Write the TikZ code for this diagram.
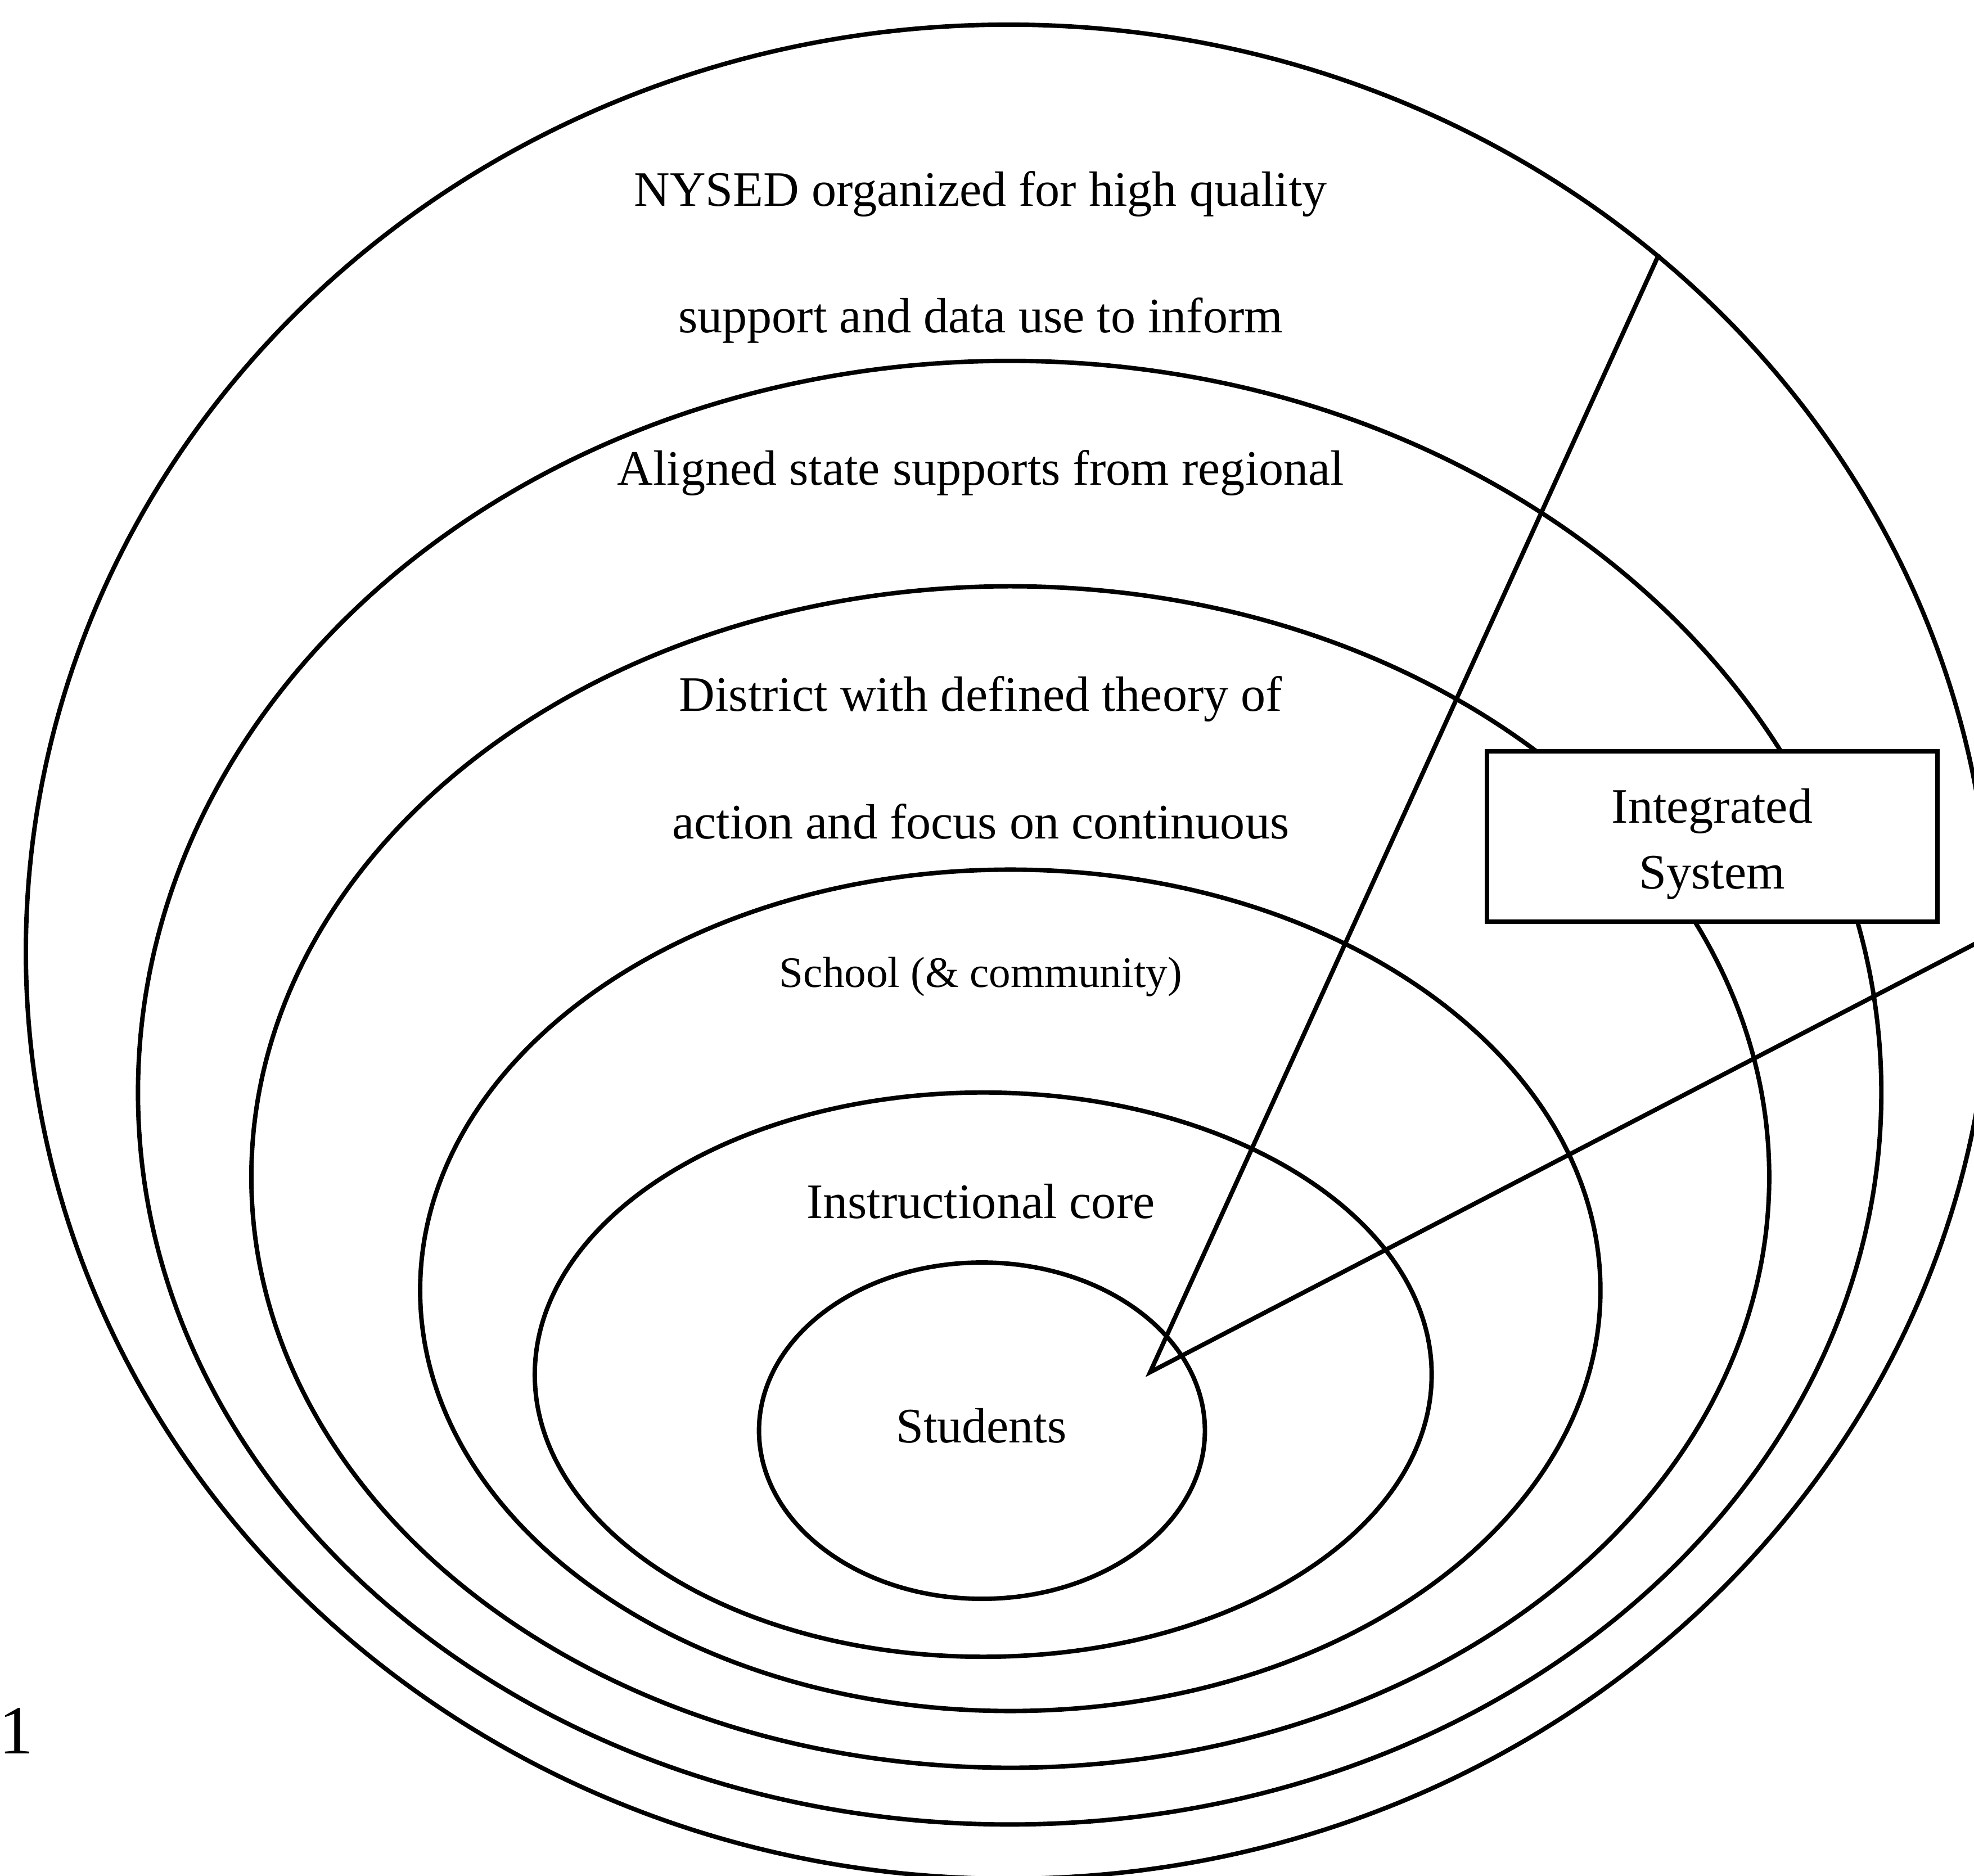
\documentclass[tikz,border=0pt]{standalone}
\usepackage{fontspec}
\setmainfont{Liberation Serif}
\usetikzlibrary{shapes,positioning}

\tikzset{
  ring/.style={ellipse,draw,line width=1pt,inner sep=0pt},
  ringtext/.style={anchor=base,font=\fontsize{11.2}{14.9}\selectfont},
}

\begin{document}
\begin{tikzpicture}[x=0.01cm,y=-0.01cm]
        \useasboundingbox (0,0) rectangle (1568,1490);
        \node[ring,minimum width=15.60cm,minimum height=14.72cm] (nysed) at (801,756) {};
        \node[ring,minimum width=13.84cm,minimum height=11.62cm] (state) at (802,868) {};
        \node[ring,minimum width=12.05cm,minimum height=9.38cm] (district) at (802.5,935) {};
        \node[ring,minimum width=9.37cm,minimum height=6.68cm] (school) at (802.5,1025) {};
        \node[ring,minimum width=7.12cm,minimum height=4.48cm] (core) at (781,1092) {};
        \node[ring,minimum width=3.54cm,minimum height=2.67cm] (students) at (780,1136.5) {};
        \coordinate (tip) at (913.6,1090);
        \draw[line width=1pt] (nysed.47.5) -- (tip) -- (nysed.1.8);
        \node[draw,fill=white,line width=1pt,inner sep=0pt,
              minimum width=3.574cm,minimum height=1.35cm,
              font=\fontsize{11.2}{14.9}\selectfont] (integrated) at (1360,664.5)
              {\raisebox{0pt}[\dimexpr\height+2.8pt\relax][\depth]{\begin{tabular}{@{}c@{}}Integrated\\System\end{tabular}}};
        \node[ringtext] (nysedA) at (779,163.6) {NYSED organized for high quality};
        \node[ringtext] (nysedB) at (779,264.3) {support and data use to inform};
        \node[ringtext] (stateA) at (779,385.5) {Aligned state supports from regional};
        \node[ringtext] (districtA) at (779,565) {District with defined theory of};
        \node[ringtext] (districtB) at (779,666.5) {action and focus on continuous};
        \node[ringtext,font=\fontsize{9.8}{12}\selectfont] (schoolA) at (779,784) {School (\& community)};
        \node[ringtext] (coreA) at (779,967.8) {Instructional core};
        \node[ringtext] (studentsA) at (779.5,1146) {Students};
        \node[anchor=base,font=\fontsize{15.6}{18}\selectfont] (pagenum) at (13,1393) {1};
\end{tikzpicture}
\end{document}
